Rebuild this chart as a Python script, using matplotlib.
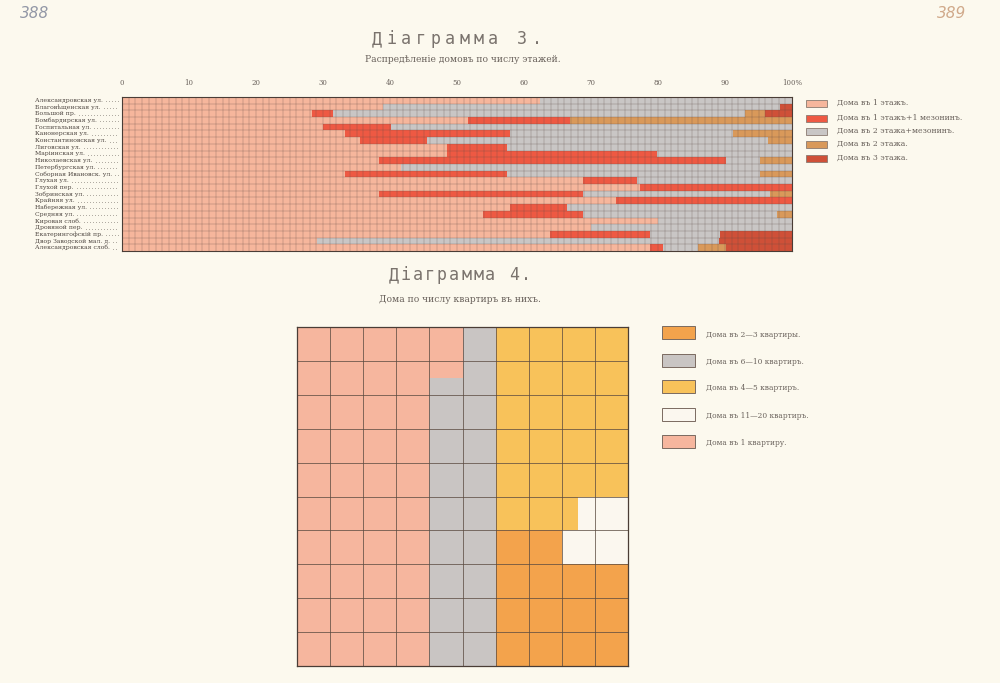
import numpy as np
import matplotlib
matplotlib.use("Agg")
import matplotlib.pyplot as plt
from matplotlib.patches import Rectangle

W, H = 1000, 683

# Діаграмма 3 -- распредѣленіе домовъ по числу этажей (% по улицамъ)
streets = [
    "Александровская ул.", "Благовѣщенская ул.", "Большой пр.", "Бомбардирская ул.",
    "Госпитальная ул.", "Канонерская ул.", "Константиновская ул.", "Лиговская ул.",
    "Маріинская ул.", "Николаевская ул.", "Петербургская ул.", "Соборная Ивановск. ул.",
    "Глухая ул.", "Глухой пер.", "Зобринская ул.", "Крайняя ул.", "Набережная ул.",
    "Средняя ул.", "Кировая слоб.", "Дровяной пер.", "Екатерингофскій пр.",
    "Двор Заводской мал. д.", "Александровская слоб.",
]
one_floor   = [62.4, 39.0, 28.3, 51.7, 30.0, 33.3, 35.5, 48.5, 48.5, 38.3, 41.7, 33.3,
               68.8, 77.3, 38.3, 73.8, 57.9, 53.9, 80.0, 70.0, 63.9, 29.1, 78.8]
one_mezz    = [0.0, 0.0, 3.2, 15.2, 10.2, 24.6, 10.0, 9.0, 31.3, 51.9, 0.0, 24.1,
               8.0, 22.7, 30.5, 26.2, 8.5, 14.9, 0.0, 0.0, 14.9, 0.0, 2.0]
two_mezz    = [37.6, 59.2, 61.5, 0.0, 59.8, 33.3, 50.9, 42.5, 20.2, 5.0, 58.3, 37.8,
               23.2, 0.0, 27.9, 0.0, 33.6, 28.9, 20.0, 30.0, 10.5, 60.0, 5.2]
two_floor   = [0.0, 0.0, 3.0, 33.1, 0.0, 8.8, 3.6, 0.0, 0.0, 4.8, 0.0, 4.8,
               0.0, 0.0, 3.3, 0.0, 0.0, 2.3, 0.0, 0.0, 0.0, 0.0, 4.2]
three_floor = [0.0, 1.8, 4.0, 0.0, 0.0, 0.0, 0.0, 0.0, 0.0, 0.0, 0.0, 0.0,
               0.0, 0.0, 0.0, 0.0, 0.0, 0.0, 0.0, 0.0, 10.7, 10.9, 9.8]
floor_labels = ["Дома въ 1 этажъ.", "Дома въ 1 этажъ+1 мезонинъ.",
                "Дома въ 2 этажа+мезонинъ.", "Дома въ 2 этажа.", "Дома въ 3 этажа."]
floor_colors = ["#f6b69c", "#ee5943", "#c9c6c5", "#d9995a", "#cf5038"]
tick_vals = [0, 10, 20, 30, 40, 50, 60, 70, 80, 90, 100]
tick_text = ["0", "10", "20", "30", "40", "50", "60", "70", "80", "90", "100%"]

# Діаграмма 4 -- дома по числу квартиръ
apt_labels = ["Дома въ 2—3 квартиры.", "Дома въ 6—10 квартиръ.", "Дома въ 4—5 квартиръ.",
              "Дома въ 11—20 квартиръ.", "Дома въ 1 квартиру."]
apt_share = [14.0, 18.5, 22.5, 3.5, 41.5]
apt_colors = ["#f3a34c", "#c9c5c3", "#f8c25a", "#fbf7ef", "#f6b69e"]

paper = "#fcf9ee"
ink = "#4a3d36"
txt = "#6a625c"
serif = ["DejaVu Serif"]


def fx(px):
    return px / W


def fy(py):
    return 1 - py / H


def spaced(fig, x0, y, s, pitch, **kw):
    # буквы разрядкой
    for k, ch in enumerate(s):
        fig.text(fx(x0 + k * pitch), fy(y), ch, ha="center", va="center", **kw)


fig = plt.figure(figsize=(W / 100, H / 100), dpi=100)
fig.patch.set_facecolor(paper)

# номера страниц
fig.text(fx(35), fy(14), "388", fontsize=11, color="#9297a6", ha="center", va="center",
         family=["DejaVu Sans"], style="italic", weight="light")
fig.text(fx(952), fy(14), "389", fontsize=11, color="#d0a98a", ha="center", va="center",
         family=["DejaVu Sans"], style="italic", weight="light")

# ---------- Діаграмма 3 ----------
spaced(fig, 377, 39, "Діаграмма 3.", 14.5, fontsize=12, color="#7a736d",
       family=["DejaVu Sans Mono"])
fig.text(fx(463), fy(59), "Распредѣленіе домовъ по числу этажей.", fontsize=6.6,
         color=txt, ha="center", va="center", family=serif)

ax3 = fig.add_axes([fx(122), fy(251), 670 / W, 154 / H])
ax3.set_facecolor("none")
n = len(streets)
rows = np.arange(n) + 0.5
series = [one_floor, one_mezz, two_mezz, two_floor, three_floor]
left = np.zeros(n)
for vals, col in zip(series, floor_colors):
    vals = np.array(vals)
    ax3.barh(rows, vals, left=left, height=1.0, color=col, linewidth=0)
    left += vals
ax3.vlines(np.arange(1, 100), 0, n, colors="#5c4a44", lw=0.35, alpha=0.55)
ax3.hlines(np.arange(1, n), 0, 100, colors="#5c4a44", lw=0.35, alpha=0.55)
ax3.set_xlim(0, 100)
ax3.set_ylim(n, 0)
ax3.xaxis.tick_top()
ax3.set_xticks(tick_vals)
ax3.set_xticklabels(tick_text, fontsize=5, color=txt, family=serif)
ax3.tick_params(axis="x", length=0, pad=7)
ax3.set_yticks([])
for sp in ax3.spines.values():
    sp.set_color(ink)
    sp.set_linewidth(0.8)

lab_x = (35 - 122) / 670
end_x = (119 - 122) / 670
tr = ax3.get_yaxis_transform()
name_txt = []
for i, name in enumerate(streets):
    t = ax3.text(lab_x, rows[i], name, transform=tr, fontsize=4.4, color="#4a423d",
                 ha="left", va="center", family=serif, clip_on=False)
    name_txt.append(t)
fig.canvas.draw()
rend = fig.canvas.get_renderer()
inv = ax3.transAxes.inverted()
for i, t in enumerate(name_txt):
    bb = t.get_window_extent(rend)
    x_start = inv.transform((bb.x1 + 3, 0))[0]
    if x_start < end_x:
        ax3.plot([x_start, end_x], [rows[i] + 0.15, rows[i] + 0.15], transform=tr,
                 color="#4a423d", lw=0.6, ls=(0, (0.6, 3)), clip_on=False)

# легенда 3
leg3_y = [103, 118, 131, 144, 158]
for lab, col, y in zip(floor_labels, floor_colors, leg3_y):
    fig.patches.append(Rectangle((fx(806), fy(y + 3.5)), 21 / W, 7 / H, transform=fig.transFigure,
                                 facecolor=col, edgecolor="#8a7a70", lw=0.6))
    fig.text(fx(837), fy(y), lab, fontsize=5.6, color=txt, ha="left", va="center",
             family=serif)

# ---------- Діаграмма 4 ----------
spaced(fig, 394, 275, "Діаграмма 4.", 12, fontsize=12, color="#7a736d",
       family=["DejaVu Sans Mono"])
fig.text(fx(460), fy(300), "Дома по числу квартиръ въ нихъ.", fontsize=6.6,
         color=txt, ha="center", va="center", family=serif)

ax4 = fig.add_axes([fx(297), fy(666), 331 / W, 339 / H])
ax4.set_facecolor("none")


def fill_block(ax, order, shares, cols, nrows, by_column, snake_odd_ltr=True):
    ncols = len(cols)
    a = 0.0
    for idx in order:
        b = a + shares[idx]
        k = int(np.floor(a))
        while k < b - 1e-9:
            lo = max(a, k) - k
            hi = min(b, k + 1) - k
            if by_column:
                c, r = cols[k // nrows], k % nrows
                ax.add_patch(Rectangle((c, r + lo), 1, hi - lo, facecolor=apt_colors[idx], lw=0))
            else:
                r, j = k // ncols, k % ncols
                ltr = (r % 2 == 1) == snake_odd_ltr
                c = cols[j] if ltr else cols[ncols - 1 - j]
                x0 = c + lo if ltr else c + 1 - hi
                ax.add_patch(Rectangle((x0, r), hi - lo, 1, facecolor=apt_colors[idx], lw=0))
            k += 1
        a = b


fill_block(ax4, [4, 1], apt_share, [0, 1, 2, 3, 4, 5], 10, True)
fill_block(ax4, [2, 3, 0], apt_share, [6, 7, 8, 9], 10, False)
ax4.vlines(np.arange(1, 10), 0, 10, colors="#5a4a40", lw=0.7, alpha=0.75)
ax4.hlines(np.arange(1, 10), 0, 10, colors="#5a4a40", lw=0.7, alpha=0.75)
ax4.set_xlim(0, 10)
ax4.set_ylim(10, 0)
ax4.set_xticks([])
ax4.set_yticks([])
for sp in ax4.spines.values():
    sp.set_color(ink)
    sp.set_linewidth(0.9)

# легенда 4
leg4_y = [333, 360, 386, 414, 441]
for lab, col, y in zip(apt_labels, apt_colors, leg4_y):
    fig.patches.append(Rectangle((fx(662), fy(y + 6.5)), 33 / W, 13 / H, transform=fig.transFigure,
                                 facecolor=col, edgecolor="#7a6a60", lw=0.7))
    fig.text(fx(706), fy(y + 2), lab, fontsize=5.4, color=txt, ha="left", va="center",
             family=serif)

fig.savefig("out.png", dpi=100, facecolor=paper)
